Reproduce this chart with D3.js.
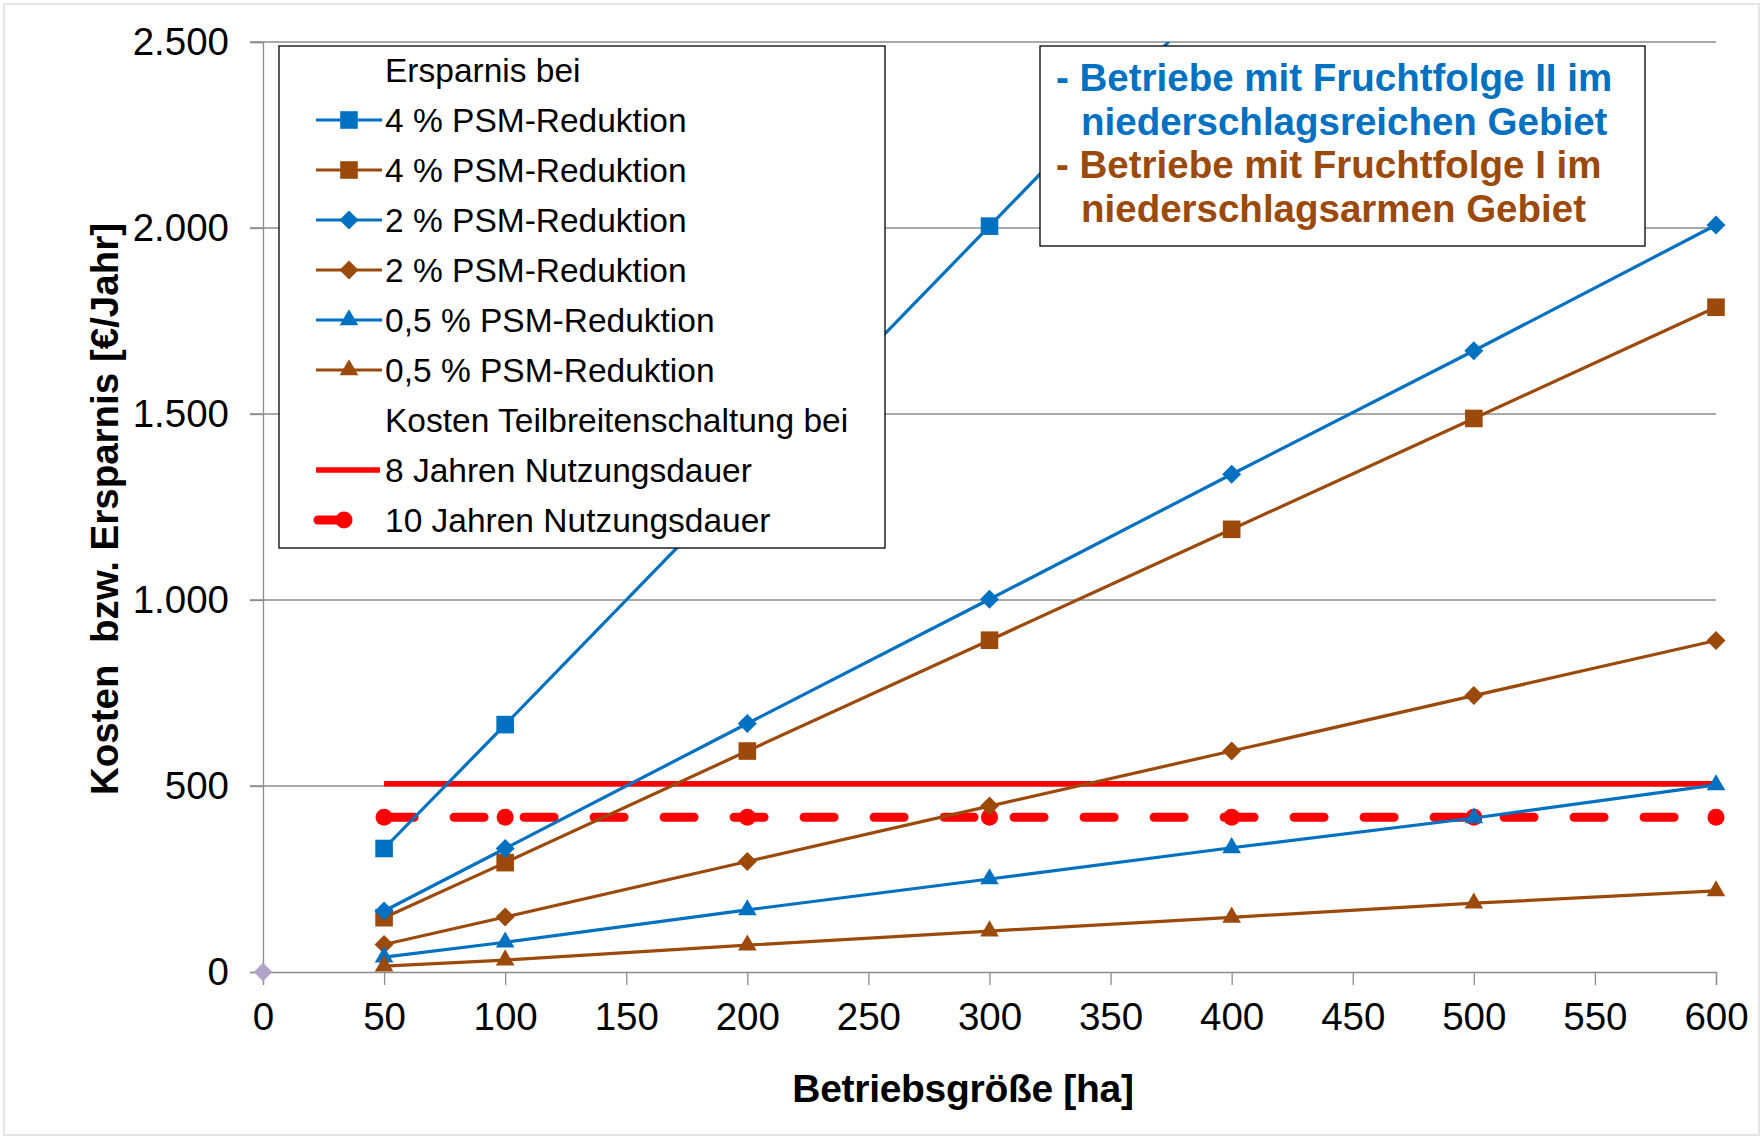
<!DOCTYPE html>
<html><head><meta charset="utf-8">
<script src="https://cdn.jsdelivr.net/npm/d3@7"></script>
<style>body{margin:0;background:#fff}svg{display:block}text{font-family:"Liberation Sans",Arial,sans-serif}</style>
</head><body><svg id="c" width="1763" height="1139"></svg>
<script>
const sizes = [50, 100, 200, 300, 400, 500, 600];
const blue4 = [332, 665, 1335, 2005, 2675, 3345, 4010];
const brown4 = [146, 294, 594, 892, 1190, 1488, 1787];
const blue2 = [164, 332, 668, 1002, 1338, 1670, 2008];
const brown2 = [74, 148, 297, 446, 594, 743, 891];
const blue05 = [40, 80, 167, 250, 334, 414, 503];
const brown05 = [16, 32, 72, 110, 147, 185, 218];
const cost8 = [506, 506, 506, 506, 506, 506, 506];
const cost10 = [416, 416, 416, 416, 416, 416, 416];
const xTicks = [0, 50, 100, 150, 200, 250, 300, 350, 400, 450, 500, 550, 600];
const yTicks = [0, 500, 1000, 1500, 2000, 2500];
const legendTitle1 = "Ersparnis bei";
const legendTitle2 = "Kosten Teilbreitenschaltung bei";
const noteLines = ["- Betriebe mit Fruchtfolge II im", "niederschlagsreichen Gebiet", "- Betriebe mit Fruchtfolge I im", "niederschlagsarmen Gebiet"];
const xTitle = "Betriebsgröße [ha]";
const yTitle = "Kosten  bzw. Ersparnis [€/Jahr]";

const BLUE = "#0070c0", BROWN = "#9c4a0c", RED = "#ff0000";
const series = [
  {name: "4 % PSM-Reduktion", vals: blue4, color: BLUE, sym: "square"},
  {name: "4 % PSM-Reduktion", vals: brown4, color: BROWN, sym: "square"},
  {name: "2 % PSM-Reduktion", vals: blue2, color: BLUE, sym: "diamond"},
  {name: "2 % PSM-Reduktion", vals: brown2, color: BROWN, sym: "diamond"},
  {name: "0,5 % PSM-Reduktion", vals: blue05, color: BLUE, sym: "triangle"},
  {name: "0,5 % PSM-Reduktion", vals: brown05, color: BROWN, sym: "triangle"}
];

const svg = d3.select("#c");
svg.append("rect").attr("x",4).attr("y",4).attr("width",1755).attr("height",1131).attr("fill","none").attr("stroke","#e4e4e4").attr("stroke-width",2);

const x = d3.scaleLinear().domain([0, 600]).range([263, 1716]);
const y = d3.scaleLinear().domain([0, 2500]).range([972, 42]);

const diamond = {draw(ctx, size){const r=Math.sqrt(size/2);ctx.moveTo(0,-r);ctx.lineTo(r,0);ctx.lineTo(0,r);ctx.lineTo(-r,0);ctx.closePath();}};
const symTypes = {square: d3.symbolSquare, diamond: diamond, triangle: d3.symbolTriangle};
const symSize = {square: 310, diamond: 180, triangle: 150};
function sym(t){return d3.symbol().type(symTypes[t]).size(symSize[t])();}

// gridlines
svg.append("g").selectAll("line").data(yTicks.filter(d=>d>0)).join("line")
  .attr("x1", 250).attr("x2", x(600)).attr("y1", d=>y(d)).attr("y2", d=>y(d))
  .attr("stroke", "#8c8c8c").attr("stroke-width", 1.3);

// axes
const yAxis = svg.append("g").attr("transform", `translate(${x(0)},0)`)
  .call(d3.axisLeft(y).tickValues(yTicks).tickSize(13).tickPadding(21).tickFormat(d => d3.format(",")(d).replace(",", ".")));
const xAxis = svg.append("g").attr("transform", `translate(0,${y(0)})`)
  .call(d3.axisBottom(x).tickValues(xTicks).tickSize(13).tickPadding(18));
[yAxis, xAxis].forEach(a => {
  a.select(".domain").attr("stroke", "#8c8c8c").attr("stroke-width", 1.3);
  a.selectAll(".tick line").attr("stroke", "#8c8c8c").attr("stroke-width", 1.3);
  a.selectAll("text").attr("font-size", 38.5).attr("fill", "#000").attr("font-family", "Liberation Sans, Arial, sans-serif");
});
xAxis.selectAll(".tick text").attr("dy", "0.71em");

// axis titles
svg.append("text").attr("x", 963).attr("y", 1102).attr("text-anchor", "middle")
  .attr("font-size", 39).attr("font-weight", "bold").attr("letter-spacing", -0.3).text(xTitle);
svg.append("text").attr("transform", "translate(118,509) rotate(-90)").attr("text-anchor", "middle")
  .style("white-space", "pre").attr("font-size", 38.5).attr("font-weight", "bold").text(yTitle);

// clip
svg.append("clipPath").attr("id", "clip").append("rect").attr("x", x(0)-20).attr("y", y(2500)).attr("width", x(600)-x(0)+40).attr("height", y(0)-y(2500)+20);
const plot = svg.append("g").attr("clip-path", "url(#clip)");
const line = d3.line().x((d,i)=>x(sizes[i])).y(d=>y(d));

// origin marker
svg.append("path").attr("d", d3.symbol().type(diamond).size(170)()).attr("transform", `translate(${x(0)},${y(0)})`).attr("fill", "#b3a2c7");

// cost lines
plot.append("path").datum(cost8).attr("d", line).attr("fill","none").attr("stroke",RED).attr("stroke-width",5.5);
plot.append("path").datum(cost10).attr("d", line).attr("fill","none").attr("stroke",RED).attr("stroke-width",9)
  .attr("stroke-dasharray","30 40").attr("stroke-linecap","round");
plot.append("g").selectAll("circle").data(cost10).join("circle").attr("cx",(d,i)=>x(sizes[i])).attr("cy",d=>y(d)).attr("r",8.5).attr("fill",RED);

// series
series.forEach(s => {
  plot.append("path").datum(s.vals).attr("d", line).attr("fill","none").attr("stroke",s.color).attr("stroke-width",3.2);
  plot.append("g").selectAll("path").data(s.vals.filter(v=>v<=2500)).join("path").attr("d", sym(s.sym))
    .attr("transform",(d,i)=>`translate(${x(sizes[i])},${y(d)})`).attr("fill", s.color);
});

// legend
const lg = svg.append("g");
lg.append("rect").attr("x",279).attr("y",46).attr("width",606).attr("height",502).attr("fill","#fff").attr("stroke","#000").attr("stroke-width",1.3);
const rowY = i => 70 + i*50;
const tx = 385, fs = 33.5;
lg.append("text").attr("x",tx).attr("y",rowY(0)).attr("dy","0.35em").attr("font-size",fs).text(legendTitle1);
series.forEach((s,i) => {
  const yy = rowY(i+1);
  lg.append("line").attr("x1",316).attr("x2",382).attr("y1",yy).attr("y2",yy).attr("stroke",s.color).attr("stroke-width",3.2);
  lg.append("path").attr("d",sym(s.sym)).attr("transform",`translate(349,${yy})`).attr("fill",s.color);
  lg.append("text").attr("x",tx).attr("y",yy).attr("dy","0.35em").attr("font-size",fs).text(s.name);
});
lg.append("text").attr("x",tx).attr("y",rowY(7)).attr("dy","0.35em").attr("font-size",fs).text(legendTitle2);
lg.append("line").attr("x1",316).attr("x2",380).attr("y1",rowY(8)).attr("y2",rowY(8)).attr("stroke",RED).attr("stroke-width",5.5);
lg.append("text").attr("x",tx).attr("y",rowY(8)).attr("dy","0.35em").attr("font-size",fs).text("8 Jahren Nutzungsdauer");
lg.append("line").attr("x1",318).attr("x2",344).attr("y1",rowY(9)).attr("y2",rowY(9)).attr("stroke",RED).attr("stroke-width",9).attr("stroke-linecap","round");
lg.append("circle").attr("cx",344).attr("cy",rowY(9)).attr("r",8.5).attr("fill",RED);
lg.append("text").attr("x",tx).attr("y",rowY(9)).attr("dy","0.35em").attr("font-size",fs).text("10 Jahren Nutzungsdauer");

// note box
const nb = svg.append("g");
nb.append("rect").attr("x",1040).attr("y",46).attr("width",605).attr("height",200).attr("fill","#fff").attr("stroke","#000").attr("stroke-width",1.3);
const noteColors = [BLUE, BLUE, BROWN, BROWN];
noteLines.forEach((t,i) => {
  nb.append("text").attr("x", i%2===0 ? 1056 : 1081).attr("y", 78 + i*43.5).attr("dy","0.35em")
    .attr("font-size",38.5).attr("font-weight","bold").attr("letter-spacing",0).attr("fill",noteColors[i]).text(t);
});
</script></body></html>
